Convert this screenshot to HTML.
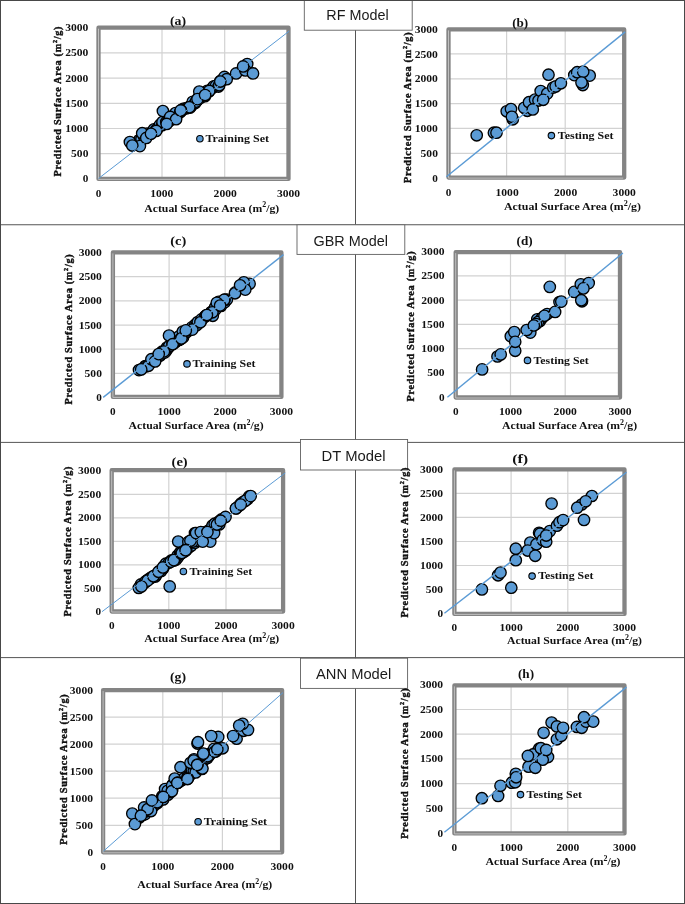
<!DOCTYPE html>
<html lang="en"><head><meta charset="utf-8"><title>Predicted vs actual surface area</title>
<style>html,body{margin:0;padding:0;background:#fff}svg{display:block}</style></head>
<body>
<svg width="685" height="904" viewBox="0 0 685 904" font-family="'Liberation Serif',serif" font-weight="bold" fill="#111">
<rect width="685" height="904" fill="#fff"/>
<line x1="355.5" y1="0" x2="355.5" y2="904" stroke="#555555" stroke-width="1"/>
<line x1="0" y1="224.75" x2="685" y2="224.75" stroke="#555555" stroke-width="1"/>
<line x1="0" y1="442.4" x2="685" y2="442.4" stroke="#555555" stroke-width="1"/>
<line x1="0" y1="657.6" x2="685" y2="657.6" stroke="#555555" stroke-width="1"/>
<rect x="304.3" y="-1" width="107.9" height="31.2" fill="#fff" stroke="#606060" stroke-width="0.9"/>
<text x="326.3" y="20.3" font-family="'Liberation Sans',sans-serif" font-weight="normal" font-size="14" fill="#1a1a1a" textLength="62.3" lengthAdjust="spacingAndGlyphs">RF Model</text>
<rect x="297.0" y="224.8" width="107.8" height="29.6" fill="#fff" stroke="#606060" stroke-width="0.9"/>
<text x="313.5" y="245.6" font-family="'Liberation Sans',sans-serif" font-weight="normal" font-size="14" fill="#1a1a1a" textLength="74.4" lengthAdjust="spacingAndGlyphs">GBR Model</text>
<rect x="300.5" y="439.5" width="107.1" height="30.5" fill="#fff" stroke="#606060" stroke-width="0.9"/>
<text x="321.6" y="461.1" font-family="'Liberation Sans',sans-serif" font-weight="normal" font-size="14" fill="#1a1a1a" textLength="63.9" lengthAdjust="spacingAndGlyphs">DT Model</text>
<rect x="300.5" y="658.2" width="107.1" height="30.2" fill="#fff" stroke="#606060" stroke-width="0.9"/>
<text x="316.0" y="679.3" font-family="'Liberation Sans',sans-serif" font-weight="normal" font-size="14" fill="#1a1a1a" textLength="75.2" lengthAdjust="spacingAndGlyphs">ANN Model</text>
<g id="panel-a">
<line x1="98.5" x2="288.5" y1="153.7" y2="153.7" stroke="#d2d2d2" stroke-width="1.2"/>
<line x1="98.5" x2="288.5" y1="128.5" y2="128.5" stroke="#d2d2d2" stroke-width="1.2"/>
<line x1="98.5" x2="288.5" y1="103.3" y2="103.3" stroke="#d2d2d2" stroke-width="1.2"/>
<line x1="98.5" x2="288.5" y1="78.1" y2="78.1" stroke="#d2d2d2" stroke-width="1.2"/>
<line x1="98.5" x2="288.5" y1="52.9" y2="52.9" stroke="#d2d2d2" stroke-width="1.2"/>
<line x1="162.0" x2="162.0" y1="27.7" y2="178.9" stroke="#d2d2d2" stroke-width="1.2"/>
<line x1="224.7" x2="224.7" y1="27.7" y2="178.9" stroke="#d2d2d2" stroke-width="1.2"/>
<rect x="98.5" y="27.7" width="190.0" height="151.2" fill="none" stroke="#848484" stroke-width="4.3" stroke-linejoin="round"/>
<path d="M98.5 28.7V179.4H287.5" fill="none" stroke="#bfbfbf" stroke-width="1"/>
<g fill="#5b9bd5" stroke="#000" stroke-width="1.35"><circle cx="139.2" cy="140.1" r="5.7"/><circle cx="141.5" cy="139.0" r="5.7"/><circle cx="144.3" cy="135.9" r="5.7"/><circle cx="144.2" cy="137.0" r="5.7"/><circle cx="147.0" cy="133.6" r="5.7"/><circle cx="151.2" cy="133.0" r="5.7"/><circle cx="152.7" cy="131.7" r="5.7"/><circle cx="154.0" cy="129.3" r="5.7"/><circle cx="155.9" cy="130.2" r="5.7"/><circle cx="157.5" cy="128.4" r="5.7"/><circle cx="159.9" cy="124.9" r="5.7"/><circle cx="162.1" cy="125.2" r="5.7"/><circle cx="162.5" cy="122.0" r="5.7"/><circle cx="166.3" cy="122.0" r="5.7"/><circle cx="167.7" cy="122.0" r="5.7"/><circle cx="169.7" cy="120.7" r="5.7"/><circle cx="170.6" cy="119.0" r="5.7"/><circle cx="172.7" cy="118.0" r="5.7"/><circle cx="176.0" cy="114.0" r="5.7"/><circle cx="175.5" cy="113.0" r="5.7"/><circle cx="180.1" cy="112.3" r="5.7"/><circle cx="181.0" cy="110.5" r="5.7"/><circle cx="182.5" cy="109.4" r="5.7"/><circle cx="184.0" cy="108.6" r="5.7"/><circle cx="186.6" cy="108.3" r="5.7"/><circle cx="188.9" cy="107.0" r="5.7"/><circle cx="191.4" cy="105.8" r="5.7"/><circle cx="192.7" cy="101.8" r="5.7"/><circle cx="195.2" cy="103.0" r="5.7"/><circle cx="197.3" cy="100.3" r="5.7"/><circle cx="198.6" cy="97.8" r="5.7"/><circle cx="200.9" cy="97.6" r="5.7"/><circle cx="201.1" cy="94.6" r="5.7"/><circle cx="204.9" cy="96.2" r="5.7"/><circle cx="204.4" cy="94.2" r="5.7"/><circle cx="207.3" cy="90.8" r="5.7"/><circle cx="208.9" cy="91.4" r="5.7"/><circle cx="212.7" cy="87.7" r="5.7"/><circle cx="213.8" cy="86.3" r="5.7"/><circle cx="216.0" cy="85.8" r="5.7"/><circle cx="218.5" cy="86.5" r="5.7"/><circle cx="219.2" cy="85.2" r="5.7"/><circle cx="220.5" cy="80.9" r="5.7"/><circle cx="223.4" cy="79.4" r="5.7"/><circle cx="224.0" cy="79.2" r="5.7"/><circle cx="129.9" cy="142.0" r="5.7"/><circle cx="139.9" cy="146.1" r="5.7"/><circle cx="142.2" cy="133.2" r="5.7"/><circle cx="146.3" cy="137.9" r="5.7"/><circle cx="156.2" cy="130.9" r="5.7"/><circle cx="162.9" cy="111.0" r="5.7"/><circle cx="170.2" cy="116.9" r="5.7"/><circle cx="176.1" cy="119.2" r="5.7"/><circle cx="190.1" cy="107.5" r="5.7"/><circle cx="195.9" cy="101.7" r="5.7"/><circle cx="199.4" cy="97.0" r="5.7"/><circle cx="247.2" cy="64.0" r="5.7"/><circle cx="236.1" cy="73.4" r="5.7"/><circle cx="245.4" cy="70.4" r="5.7"/><circle cx="253.0" cy="73.4" r="5.7"/><circle cx="224.4" cy="76.9" r="5.7"/><circle cx="226.7" cy="79.2" r="5.7"/><circle cx="199.3" cy="91.5" r="5.7"/><circle cx="209.2" cy="90.9" r="5.7"/><circle cx="197.5" cy="99.1" r="5.7"/><circle cx="189.3" cy="107.2" r="5.7"/><circle cx="181.2" cy="110.7" r="5.7"/><circle cx="132.3" cy="145.5" r="5.7"/><circle cx="151.0" cy="133.8" r="5.7"/><circle cx="166.7" cy="123.9" r="5.7"/><circle cx="180.7" cy="110.4" r="5.7"/><circle cx="205.1" cy="95.0" r="5.7"/><circle cx="220.3" cy="81.5" r="5.7"/><circle cx="243.1" cy="66.4" r="5.7"/></g>
<line x1="98.5" y1="178.5" x2="289.2" y2="31.1" stroke="#5b9bd5" stroke-width="1.0"/>
<circle cx="199.9" cy="138.7" r="3.25" fill="#5b9bd5" stroke="#000" stroke-width="1.1"/>
<text x="205.4" y="142.0" text-anchor="start" font-size="10.7" textLength="63.6" lengthAdjust="spacingAndGlyphs">Training Set</text>
<text x="88.4" y="182.4" text-anchor="end" font-size="10.7" textLength="5.6" lengthAdjust="spacingAndGlyphs">0</text>
<text x="88.4" y="157.2" text-anchor="end" font-size="10.7" textLength="17.3" lengthAdjust="spacingAndGlyphs">500</text>
<text x="88.4" y="132.0" text-anchor="end" font-size="10.7" textLength="23.2" lengthAdjust="spacingAndGlyphs">1000</text>
<text x="88.4" y="106.8" text-anchor="end" font-size="10.7" textLength="23.2" lengthAdjust="spacingAndGlyphs">1500</text>
<text x="88.4" y="81.6" text-anchor="end" font-size="10.7" textLength="23.2" lengthAdjust="spacingAndGlyphs">2000</text>
<text x="88.4" y="56.4" text-anchor="end" font-size="10.7" textLength="23.2" lengthAdjust="spacingAndGlyphs">2500</text>
<text x="88.4" y="31.2" text-anchor="end" font-size="10.7" textLength="23.2" lengthAdjust="spacingAndGlyphs">3000</text>
<text x="98.5" y="196.5" text-anchor="middle" font-size="10.7" textLength="5.6" lengthAdjust="spacingAndGlyphs">0</text>
<text x="161.8" y="196.5" text-anchor="middle" font-size="10.7" textLength="23.2" lengthAdjust="spacingAndGlyphs">1000</text>
<text x="225.2" y="196.5" text-anchor="middle" font-size="10.7" textLength="23.2" lengthAdjust="spacingAndGlyphs">2000</text>
<text x="288.5" y="196.5" text-anchor="middle" font-size="10.7" textLength="23.2" lengthAdjust="spacingAndGlyphs">3000</text>
<text x="144.3" y="211.6" text-anchor="start" font-size="11.2" textLength="135.0" lengthAdjust="spacingAndGlyphs">Actual Surface Area (m<tspan font-size="7.6" dy="-4.2">2</tspan><tspan dy="4.2">/g)</tspan></text>
<text x="57.5" y="104.9" text-anchor="middle" font-size="10.2" textLength="150.0" lengthAdjust="spacing" transform="rotate(-90 57.5 101.5)" stroke="#111" stroke-width="0.4">Predicted Surface Area (m<tspan font-size="6.2" dy="-3.9">2</tspan><tspan dy="3.9">/g)</tspan></text>
<text x="178.0" y="24.5" text-anchor="middle" font-size="13.2" textLength="16.1" lengthAdjust="spacingAndGlyphs">(a)</text>
</g>
<g id="panel-b">
<line x1="448.5" x2="624.2" y1="153.3" y2="153.3" stroke="#d2d2d2" stroke-width="1.2"/>
<line x1="448.5" x2="624.2" y1="128.4" y2="128.4" stroke="#d2d2d2" stroke-width="1.2"/>
<line x1="448.5" x2="624.2" y1="103.6" y2="103.6" stroke="#d2d2d2" stroke-width="1.2"/>
<line x1="448.5" x2="624.2" y1="78.8" y2="78.8" stroke="#d2d2d2" stroke-width="1.2"/>
<line x1="448.5" x2="624.2" y1="53.9" y2="53.9" stroke="#d2d2d2" stroke-width="1.2"/>
<line x1="506.6" x2="506.6" y1="29.4" y2="177.6" stroke="#d2d2d2" stroke-width="1.2"/>
<line x1="565.2" x2="565.2" y1="29.4" y2="177.6" stroke="#d2d2d2" stroke-width="1.2"/>
<rect x="448.5" y="29.4" width="175.7" height="148.2" fill="none" stroke="#848484" stroke-width="4.3" stroke-linejoin="round"/>
<path d="M448.5 30.4V178.1H623.2" fill="none" stroke="#bfbfbf" stroke-width="1"/>
<g fill="#5b9bd5" stroke="#000" stroke-width="1.35"><circle cx="476.7" cy="135.3" r="5.7"/><circle cx="493.9" cy="132.7" r="5.7"/><circle cx="496.5" cy="132.7" r="5.7"/><circle cx="506.7" cy="111.3" r="5.7"/><circle cx="511.0" cy="109.0" r="5.7"/><circle cx="512.8" cy="119.3" r="5.7"/><circle cx="511.9" cy="116.8" r="5.7"/><circle cx="527.3" cy="110.8" r="5.7"/><circle cx="524.2" cy="107.8" r="5.7"/><circle cx="529.0" cy="102.2" r="5.7"/><circle cx="535.1" cy="99.6" r="5.7"/><circle cx="538.5" cy="100.5" r="5.7"/><circle cx="540.7" cy="91.0" r="5.7"/><circle cx="532.8" cy="109.4" r="5.7"/><circle cx="547.2" cy="93.6" r="5.7"/><circle cx="543.2" cy="99.8" r="5.7"/><circle cx="548.5" cy="74.7" r="5.7"/><circle cx="553.2" cy="87.6" r="5.7"/><circle cx="555.7" cy="86.4" r="5.7"/><circle cx="560.9" cy="83.3" r="5.7"/><circle cx="574.3" cy="75.1" r="5.7"/><circle cx="577.2" cy="72.2" r="5.7"/><circle cx="589.7" cy="75.6" r="5.7"/><circle cx="582.8" cy="85.0" r="5.7"/><circle cx="583.2" cy="71.7" r="5.7"/><circle cx="581.5" cy="82.5" r="5.7"/></g>
<line x1="446.4" y1="176.8" x2="625.2" y2="31.9" stroke="#5b9bd5" stroke-width="1.4"/>
<circle cx="551.4" cy="135.6" r="3.25" fill="#5b9bd5" stroke="#000" stroke-width="1.1"/>
<text x="557.8" y="138.9" text-anchor="start" font-size="10.7" textLength="55.7" lengthAdjust="spacingAndGlyphs">Testing Set</text>
<text x="437.9" y="181.6" text-anchor="end" font-size="10.7" textLength="5.6" lengthAdjust="spacingAndGlyphs">0</text>
<text x="437.9" y="156.8" text-anchor="end" font-size="10.7" textLength="17.3" lengthAdjust="spacingAndGlyphs">500</text>
<text x="437.9" y="132.0" text-anchor="end" font-size="10.7" textLength="23.2" lengthAdjust="spacingAndGlyphs">1000</text>
<text x="437.9" y="107.1" text-anchor="end" font-size="10.7" textLength="23.2" lengthAdjust="spacingAndGlyphs">1500</text>
<text x="437.9" y="82.3" text-anchor="end" font-size="10.7" textLength="23.2" lengthAdjust="spacingAndGlyphs">2000</text>
<text x="437.9" y="57.5" text-anchor="end" font-size="10.7" textLength="23.2" lengthAdjust="spacingAndGlyphs">2500</text>
<text x="437.9" y="32.6" text-anchor="end" font-size="10.7" textLength="23.2" lengthAdjust="spacingAndGlyphs">3000</text>
<text x="448.5" y="195.5" text-anchor="middle" font-size="10.7" textLength="5.6" lengthAdjust="spacingAndGlyphs">0</text>
<text x="507.1" y="195.5" text-anchor="middle" font-size="10.7" textLength="23.2" lengthAdjust="spacingAndGlyphs">1000</text>
<text x="565.6" y="195.5" text-anchor="middle" font-size="10.7" textLength="23.2" lengthAdjust="spacingAndGlyphs">2000</text>
<text x="624.2" y="195.5" text-anchor="middle" font-size="10.7" textLength="23.2" lengthAdjust="spacingAndGlyphs">3000</text>
<text x="504.0" y="210.0" text-anchor="start" font-size="11.2" textLength="137.0" lengthAdjust="spacingAndGlyphs">Actual Surface Area (m<tspan font-size="7.6" dy="-4.2">2</tspan><tspan dy="4.2">/g)</tspan></text>
<text x="407.9" y="111.1" text-anchor="middle" font-size="10.2" textLength="150.5" lengthAdjust="spacing" transform="rotate(-90 407.9 107.7)" stroke="#111" stroke-width="0.4">Predicted Surface Area (m<tspan font-size="6.2" dy="-3.9">2</tspan><tspan dy="3.9">/g)</tspan></text>
<text x="520.2" y="26.6" text-anchor="middle" font-size="13.2" textLength="16.1" lengthAdjust="spacingAndGlyphs">(b)</text>
</g>
<g id="panel-c">
<line x1="112.9" x2="281.4" y1="373.4" y2="373.4" stroke="#d2d2d2" stroke-width="1.2"/>
<line x1="112.9" x2="281.4" y1="349.2" y2="349.2" stroke="#d2d2d2" stroke-width="1.2"/>
<line x1="112.9" x2="281.4" y1="325.1" y2="325.1" stroke="#d2d2d2" stroke-width="1.2"/>
<line x1="112.9" x2="281.4" y1="300.9" y2="300.9" stroke="#d2d2d2" stroke-width="1.2"/>
<line x1="112.9" x2="281.4" y1="276.7" y2="276.7" stroke="#d2d2d2" stroke-width="1.2"/>
<line x1="169.1" x2="169.1" y1="252.4" y2="396.9" stroke="#d2d2d2" stroke-width="1.2"/>
<line x1="225.2" x2="225.2" y1="252.4" y2="396.9" stroke="#d2d2d2" stroke-width="1.2"/>
<rect x="112.9" y="252.4" width="168.5" height="144.5" fill="none" stroke="#848484" stroke-width="4.3" stroke-linejoin="round"/>
<path d="M112.9 253.4V397.4H280.4" fill="none" stroke="#bfbfbf" stroke-width="1"/>
<g fill="#5b9bd5" stroke="#000" stroke-width="1.35"><circle cx="145.3" cy="366.0" r="5.7"/><circle cx="145.6" cy="366.5" r="5.7"/><circle cx="148.4" cy="365.1" r="5.7"/><circle cx="152.1" cy="361.7" r="5.7"/><circle cx="152.8" cy="360.5" r="5.7"/><circle cx="155.3" cy="359.1" r="5.7"/><circle cx="157.0" cy="357.6" r="5.7"/><circle cx="160.2" cy="355.6" r="5.7"/><circle cx="160.6" cy="354.6" r="5.7"/><circle cx="162.0" cy="351.7" r="5.7"/><circle cx="166.2" cy="350.7" r="5.7"/><circle cx="166.9" cy="347.6" r="5.7"/><circle cx="168.5" cy="347.6" r="5.7"/><circle cx="169.2" cy="346.1" r="5.7"/><circle cx="173.1" cy="342.8" r="5.7"/><circle cx="175.0" cy="342.4" r="5.7"/><circle cx="177.1" cy="340.4" r="5.7"/><circle cx="179.2" cy="339.9" r="5.7"/><circle cx="179.1" cy="336.3" r="5.7"/><circle cx="183.1" cy="337.3" r="5.7"/><circle cx="183.8" cy="334.2" r="5.7"/><circle cx="186.8" cy="332.1" r="5.7"/><circle cx="188.1" cy="330.5" r="5.7"/><circle cx="190.0" cy="329.7" r="5.7"/><circle cx="191.8" cy="327.4" r="5.7"/><circle cx="195.2" cy="324.7" r="5.7"/><circle cx="196.6" cy="325.2" r="5.7"/><circle cx="197.8" cy="322.0" r="5.7"/><circle cx="201.2" cy="320.5" r="5.7"/><circle cx="201.4" cy="319.4" r="5.7"/><circle cx="204.9" cy="316.8" r="5.7"/><circle cx="205.7" cy="315.8" r="5.7"/><circle cx="209.2" cy="314.5" r="5.7"/><circle cx="211.3" cy="312.1" r="5.7"/><circle cx="211.7" cy="311.9" r="5.7"/><circle cx="215.3" cy="309.7" r="5.7"/><circle cx="215.3" cy="307.0" r="5.7"/><circle cx="218.2" cy="305.6" r="5.7"/><circle cx="221.0" cy="305.9" r="5.7"/><circle cx="221.1" cy="302.6" r="5.7"/><circle cx="224.9" cy="302.1" r="5.7"/><circle cx="226.9" cy="299.5" r="5.7"/><circle cx="139.0" cy="370.1" r="5.7"/><circle cx="148.5" cy="365.8" r="5.7"/><circle cx="151.4" cy="359.2" r="5.7"/><circle cx="155.1" cy="361.4" r="5.7"/><circle cx="164.6" cy="352.6" r="5.7"/><circle cx="172.6" cy="343.9" r="5.7"/><circle cx="180.6" cy="338.8" r="5.7"/><circle cx="182.8" cy="331.5" r="5.7"/><circle cx="163.9" cy="351.5" r="5.7"/><circle cx="169.0" cy="335.5" r="5.7"/><circle cx="172.6" cy="344.2" r="5.7"/><circle cx="181.4" cy="338.4" r="5.7"/><circle cx="192.3" cy="329.6" r="5.7"/><circle cx="200.4" cy="322.3" r="5.7"/><circle cx="212.8" cy="315.8" r="5.7"/><circle cx="218.6" cy="301.9" r="5.7"/><circle cx="224.5" cy="299.7" r="5.7"/><circle cx="235.4" cy="292.4" r="5.7"/><circle cx="249.6" cy="283.8" r="5.7"/><circle cx="243.8" cy="282.3" r="5.7"/><circle cx="245.3" cy="289.6" r="5.7"/><circle cx="235.0" cy="293.3" r="5.7"/><circle cx="224.1" cy="299.9" r="5.7"/><circle cx="216.8" cy="302.8" r="5.7"/><circle cx="212.4" cy="312.3" r="5.7"/><circle cx="206.6" cy="315.2" r="5.7"/><circle cx="141.2" cy="369.4" r="5.7"/><circle cx="158.7" cy="354.1" r="5.7"/><circle cx="185.8" cy="330.4" r="5.7"/><circle cx="206.9" cy="315.0" r="5.7"/><circle cx="220.1" cy="305.5" r="5.7"/><circle cx="240.1" cy="285.3" r="5.7"/></g>
<line x1="103.2" y1="397.4" x2="283.5" y2="254.6" stroke="#5b9bd5" stroke-width="1.4"/>
<circle cx="187.0" cy="363.9" r="3.25" fill="#5b9bd5" stroke="#000" stroke-width="1.1"/>
<text x="192.5" y="367.2" text-anchor="start" font-size="10.7" textLength="62.9" lengthAdjust="spacingAndGlyphs">Training Set</text>
<text x="101.9" y="401.1" text-anchor="end" font-size="10.7" textLength="5.6" lengthAdjust="spacingAndGlyphs">0</text>
<text x="101.9" y="376.9" text-anchor="end" font-size="10.7" textLength="17.3" lengthAdjust="spacingAndGlyphs">500</text>
<text x="101.9" y="352.8" text-anchor="end" font-size="10.7" textLength="23.2" lengthAdjust="spacingAndGlyphs">1000</text>
<text x="101.9" y="328.6" text-anchor="end" font-size="10.7" textLength="23.2" lengthAdjust="spacingAndGlyphs">1500</text>
<text x="101.9" y="304.4" text-anchor="end" font-size="10.7" textLength="23.2" lengthAdjust="spacingAndGlyphs">2000</text>
<text x="101.9" y="280.2" text-anchor="end" font-size="10.7" textLength="23.2" lengthAdjust="spacingAndGlyphs">2500</text>
<text x="101.9" y="256.0" text-anchor="end" font-size="10.7" textLength="23.2" lengthAdjust="spacingAndGlyphs">3000</text>
<text x="112.9" y="415.1" text-anchor="middle" font-size="10.7" textLength="5.6" lengthAdjust="spacingAndGlyphs">0</text>
<text x="169.1" y="415.1" text-anchor="middle" font-size="10.7" textLength="23.2" lengthAdjust="spacingAndGlyphs">1000</text>
<text x="225.2" y="415.1" text-anchor="middle" font-size="10.7" textLength="23.2" lengthAdjust="spacingAndGlyphs">2000</text>
<text x="281.4" y="415.1" text-anchor="middle" font-size="10.7" textLength="23.2" lengthAdjust="spacingAndGlyphs">3000</text>
<text x="128.6" y="429.3" text-anchor="start" font-size="11.2" textLength="135.0" lengthAdjust="spacingAndGlyphs">Actual Surface Area (m<tspan font-size="7.6" dy="-4.2">2</tspan><tspan dy="4.2">/g)</tspan></text>
<text x="68.3" y="332.8" text-anchor="middle" font-size="10.2" textLength="150.2" lengthAdjust="spacing" transform="rotate(-90 68.3 329.4)" stroke="#111" stroke-width="0.4">Predicted Surface Area (m<tspan font-size="6.2" dy="-3.9">2</tspan><tspan dy="3.9">/g)</tspan></text>
<text x="178.2" y="244.5" text-anchor="middle" font-size="13.2" textLength="16.1" lengthAdjust="spacingAndGlyphs">(c)</text>
</g>
<g id="panel-d">
<line x1="455.7" x2="620.0" y1="372.9" y2="372.9" stroke="#d2d2d2" stroke-width="1.2"/>
<line x1="455.7" x2="620.0" y1="348.6" y2="348.6" stroke="#d2d2d2" stroke-width="1.2"/>
<line x1="455.7" x2="620.0" y1="324.4" y2="324.4" stroke="#d2d2d2" stroke-width="1.2"/>
<line x1="455.7" x2="620.0" y1="300.1" y2="300.1" stroke="#d2d2d2" stroke-width="1.2"/>
<line x1="455.7" x2="620.0" y1="275.8" y2="275.8" stroke="#d2d2d2" stroke-width="1.2"/>
<line x1="510.5" x2="510.5" y1="252.1" y2="397.5" stroke="#d2d2d2" stroke-width="1.2"/>
<line x1="565.2" x2="565.2" y1="252.1" y2="397.5" stroke="#d2d2d2" stroke-width="1.2"/>
<rect x="455.7" y="252.1" width="164.3" height="145.4" fill="none" stroke="#848484" stroke-width="4.3" stroke-linejoin="round"/>
<path d="M455.7 253.1V398.0H619.0" fill="none" stroke="#bfbfbf" stroke-width="1"/>
<g fill="#5b9bd5" stroke="#000" stroke-width="1.35"><circle cx="482.1" cy="369.4" r="5.7"/><circle cx="497.5" cy="356.5" r="5.7"/><circle cx="500.7" cy="354.4" r="5.7"/><circle cx="510.8" cy="336.2" r="5.7"/><circle cx="514.3" cy="332.1" r="5.7"/><circle cx="515.2" cy="350.8" r="5.7"/><circle cx="515.2" cy="341.8" r="5.7"/><circle cx="530.3" cy="332.6" r="5.7"/><circle cx="526.7" cy="330.0" r="5.7"/><circle cx="537.3" cy="319.3" r="5.7"/><circle cx="540.0" cy="321.1" r="5.7"/><circle cx="542.0" cy="318.0" r="5.7"/><circle cx="538.0" cy="322.0" r="5.7"/><circle cx="536.0" cy="324.0" r="5.7"/><circle cx="547.1" cy="314.0" r="5.7"/><circle cx="533.8" cy="325.5" r="5.7"/><circle cx="544.5" cy="315.8" r="5.7"/><circle cx="555.1" cy="311.9" r="5.7"/><circle cx="549.8" cy="286.9" r="5.7"/><circle cx="559.5" cy="302.0" r="5.7"/><circle cx="561.3" cy="301.6" r="5.7"/><circle cx="574.2" cy="291.9" r="5.7"/><circle cx="580.8" cy="284.3" r="5.7"/><circle cx="588.7" cy="283.1" r="5.7"/><circle cx="583.4" cy="288.4" r="5.7"/><circle cx="582.0" cy="301.3" r="5.7"/><circle cx="581.3" cy="300.2" r="5.7"/></g>
<line x1="447.4" y1="397.2" x2="622.9" y2="253.0" stroke="#5b9bd5" stroke-width="1.4"/>
<circle cx="527.5" cy="360.4" r="3.25" fill="#5b9bd5" stroke="#000" stroke-width="1.1"/>
<text x="533.5" y="363.7" text-anchor="start" font-size="10.7" textLength="55.2" lengthAdjust="spacingAndGlyphs">Testing Set</text>
<text x="444.5" y="400.7" text-anchor="end" font-size="10.7" textLength="5.6" lengthAdjust="spacingAndGlyphs">0</text>
<text x="444.5" y="376.4" text-anchor="end" font-size="10.7" textLength="17.3" lengthAdjust="spacingAndGlyphs">500</text>
<text x="444.5" y="352.2" text-anchor="end" font-size="10.7" textLength="23.2" lengthAdjust="spacingAndGlyphs">1000</text>
<text x="444.5" y="327.9" text-anchor="end" font-size="10.7" textLength="23.2" lengthAdjust="spacingAndGlyphs">1500</text>
<text x="444.5" y="303.6" text-anchor="end" font-size="10.7" textLength="23.2" lengthAdjust="spacingAndGlyphs">2000</text>
<text x="444.5" y="279.3" text-anchor="end" font-size="10.7" textLength="23.2" lengthAdjust="spacingAndGlyphs">2500</text>
<text x="444.5" y="255.0" text-anchor="end" font-size="10.7" textLength="23.2" lengthAdjust="spacingAndGlyphs">3000</text>
<text x="455.7" y="414.9" text-anchor="middle" font-size="10.7" textLength="5.6" lengthAdjust="spacingAndGlyphs">0</text>
<text x="510.5" y="414.9" text-anchor="middle" font-size="10.7" textLength="23.2" lengthAdjust="spacingAndGlyphs">1000</text>
<text x="565.2" y="414.9" text-anchor="middle" font-size="10.7" textLength="23.2" lengthAdjust="spacingAndGlyphs">2000</text>
<text x="620.0" y="414.9" text-anchor="middle" font-size="10.7" textLength="23.2" lengthAdjust="spacingAndGlyphs">3000</text>
<text x="502.1" y="428.8" text-anchor="start" font-size="11.2" textLength="135.0" lengthAdjust="spacingAndGlyphs">Actual Surface Area (m<tspan font-size="7.6" dy="-4.2">2</tspan><tspan dy="4.2">/g)</tspan></text>
<text x="410.7" y="329.8" text-anchor="middle" font-size="10.2" textLength="150.0" lengthAdjust="spacing" transform="rotate(-90 410.7 326.4)" stroke="#111" stroke-width="0.4">Predicted Surface Area (m<tspan font-size="6.2" dy="-3.9">2</tspan><tspan dy="3.9">/g)</tspan></text>
<text x="524.6" y="244.5" text-anchor="middle" font-size="13.2" textLength="16.1" lengthAdjust="spacingAndGlyphs">(d)</text>
</g>
<g id="panel-e">
<line x1="111.7" x2="283.1" y1="588.4" y2="588.4" stroke="#d2d2d2" stroke-width="1.2"/>
<line x1="111.7" x2="283.1" y1="564.9" y2="564.9" stroke="#d2d2d2" stroke-width="1.2"/>
<line x1="111.7" x2="283.1" y1="541.4" y2="541.4" stroke="#d2d2d2" stroke-width="1.2"/>
<line x1="111.7" x2="283.1" y1="517.8" y2="517.8" stroke="#d2d2d2" stroke-width="1.2"/>
<line x1="111.7" x2="283.1" y1="494.3" y2="494.3" stroke="#d2d2d2" stroke-width="1.2"/>
<line x1="168.8" x2="168.8" y1="470.2" y2="611.5" stroke="#d2d2d2" stroke-width="1.2"/>
<line x1="226.0" x2="226.0" y1="470.2" y2="611.5" stroke="#d2d2d2" stroke-width="1.2"/>
<rect x="111.7" y="470.2" width="171.4" height="141.3" fill="none" stroke="#848484" stroke-width="4.3" stroke-linejoin="round"/>
<path d="M111.7 471.2V612.0H282.1" fill="none" stroke="#bfbfbf" stroke-width="1"/>
<g fill="#5b9bd5" stroke="#000" stroke-width="1.35"><circle cx="140.9" cy="584.4" r="5.7"/><circle cx="144.9" cy="582.6" r="5.7"/><circle cx="145.6" cy="581.4" r="5.7"/><circle cx="147.9" cy="579.7" r="5.7"/><circle cx="151.5" cy="577.3" r="5.7"/><circle cx="150.8" cy="578.0" r="5.7"/><circle cx="155.4" cy="576.5" r="5.7"/><circle cx="156.2" cy="574.7" r="5.7"/><circle cx="159.7" cy="570.8" r="5.7"/><circle cx="161.2" cy="571.0" r="5.7"/><circle cx="163.0" cy="568.4" r="5.7"/><circle cx="163.9" cy="566.2" r="5.7"/><circle cx="165.8" cy="563.7" r="5.7"/><circle cx="168.9" cy="562.7" r="5.7"/><circle cx="171.6" cy="560.3" r="5.7"/><circle cx="174.0" cy="560.6" r="5.7"/><circle cx="176.1" cy="559.5" r="5.7"/><circle cx="178.1" cy="556.9" r="5.7"/><circle cx="177.5" cy="555.7" r="5.7"/><circle cx="180.0" cy="552.7" r="5.7"/><circle cx="183.5" cy="551.7" r="5.7"/><circle cx="184.8" cy="551.3" r="5.7"/><circle cx="187.5" cy="547.9" r="5.7"/><circle cx="188.4" cy="547.8" r="5.7"/><circle cx="191.2" cy="545.8" r="5.7"/><circle cx="192.8" cy="542.4" r="5.7"/><circle cx="195.4" cy="542.6" r="5.7"/><circle cx="196.4" cy="540.9" r="5.7"/><circle cx="200.7" cy="539.3" r="5.7"/><circle cx="202.5" cy="535.2" r="5.7"/><circle cx="203.9" cy="536.1" r="5.7"/><circle cx="204.2" cy="532.6" r="5.7"/><circle cx="206.9" cy="531.7" r="5.7"/><circle cx="209.5" cy="529.9" r="5.7"/><circle cx="212.6" cy="526.8" r="5.7"/><circle cx="212.5" cy="525.5" r="5.7"/><circle cx="214.7" cy="523.7" r="5.7"/><circle cx="219.3" cy="524.4" r="5.7"/><circle cx="218.7" cy="521.7" r="5.7"/><circle cx="221.4" cy="519.4" r="5.7"/><circle cx="236.2" cy="508.3" r="5.7"/><circle cx="239.4" cy="505.5" r="5.7"/><circle cx="241.3" cy="503.3" r="5.7"/><circle cx="243.8" cy="501.5" r="5.7"/><circle cx="247.7" cy="499.0" r="5.7"/><circle cx="249.2" cy="496.4" r="5.7"/><circle cx="138.8" cy="587.9" r="5.7"/><circle cx="147.6" cy="580.6" r="5.7"/><circle cx="153.4" cy="576.2" r="5.7"/><circle cx="158.5" cy="571.8" r="5.7"/><circle cx="162.9" cy="567.4" r="5.7"/><circle cx="169.7" cy="586.4" r="5.7"/><circle cx="170.9" cy="561.6" r="5.7"/><circle cx="173.8" cy="560.1" r="5.7"/><circle cx="178.2" cy="541.5" r="5.7"/><circle cx="181.1" cy="553.6" r="5.7"/><circle cx="188.4" cy="541.9" r="5.7"/><circle cx="192.5" cy="541.6" r="5.7"/><circle cx="195.0" cy="533.1" r="5.7"/><circle cx="181.8" cy="553.0" r="5.7"/><circle cx="190.4" cy="540.7" r="5.7"/><circle cx="196.1" cy="533.1" r="5.7"/><circle cx="200.8" cy="532.1" r="5.7"/><circle cx="210.3" cy="541.6" r="5.7"/><circle cx="214.1" cy="533.1" r="5.7"/><circle cx="216.9" cy="524.5" r="5.7"/><circle cx="225.5" cy="516.9" r="5.7"/><circle cx="235.9" cy="508.4" r="5.7"/><circle cx="245.4" cy="500.8" r="5.7"/><circle cx="250.7" cy="496.1" r="5.7"/><circle cx="141.4" cy="586.4" r="5.7"/><circle cx="186.2" cy="549.9" r="5.7"/><circle cx="185.6" cy="550.2" r="5.7"/><circle cx="202.7" cy="541.6" r="5.7"/><circle cx="207.4" cy="532.1" r="5.7"/><circle cx="220.7" cy="520.7" r="5.7"/><circle cx="240.7" cy="504.6" r="5.7"/></g>
<line x1="102.0" y1="611.7" x2="285.3" y2="472.9" stroke="#5b9bd5" stroke-width="1.0"/>
<circle cx="183.4" cy="571.5" r="3.25" fill="#5b9bd5" stroke="#000" stroke-width="1.1"/>
<text x="189.5" y="574.8" text-anchor="start" font-size="10.7" textLength="62.7" lengthAdjust="spacingAndGlyphs">Training Set</text>
<text x="101.2" y="615.4" text-anchor="end" font-size="10.7" textLength="5.6" lengthAdjust="spacingAndGlyphs">0</text>
<text x="101.2" y="591.9" text-anchor="end" font-size="10.7" textLength="17.3" lengthAdjust="spacingAndGlyphs">500</text>
<text x="101.2" y="568.4" text-anchor="end" font-size="10.7" textLength="23.2" lengthAdjust="spacingAndGlyphs">1000</text>
<text x="101.2" y="544.9" text-anchor="end" font-size="10.7" textLength="23.2" lengthAdjust="spacingAndGlyphs">1500</text>
<text x="101.2" y="521.4" text-anchor="end" font-size="10.7" textLength="23.2" lengthAdjust="spacingAndGlyphs">2000</text>
<text x="101.2" y="497.8" text-anchor="end" font-size="10.7" textLength="23.2" lengthAdjust="spacingAndGlyphs">2500</text>
<text x="101.2" y="474.3" text-anchor="end" font-size="10.7" textLength="23.2" lengthAdjust="spacingAndGlyphs">3000</text>
<text x="111.7" y="629.3" text-anchor="middle" font-size="10.7" textLength="5.6" lengthAdjust="spacingAndGlyphs">0</text>
<text x="168.8" y="629.3" text-anchor="middle" font-size="10.7" textLength="23.2" lengthAdjust="spacingAndGlyphs">1000</text>
<text x="226.0" y="629.3" text-anchor="middle" font-size="10.7" textLength="23.2" lengthAdjust="spacingAndGlyphs">2000</text>
<text x="283.1" y="629.3" text-anchor="middle" font-size="10.7" textLength="23.2" lengthAdjust="spacingAndGlyphs">3000</text>
<text x="144.3" y="642.0" text-anchor="start" font-size="11.2" textLength="135.0" lengthAdjust="spacingAndGlyphs">Actual Surface Area (m<tspan font-size="7.6" dy="-4.2">2</tspan><tspan dy="4.2">/g)</tspan></text>
<text x="67.8" y="544.9" text-anchor="middle" font-size="10.2" textLength="150.0" lengthAdjust="spacing" transform="rotate(-90 67.8 541.5)" stroke="#111" stroke-width="0.4">Predicted Surface Area (m<tspan font-size="6.2" dy="-3.9">2</tspan><tspan dy="3.9">/g)</tspan></text>
<text x="179.6" y="466.1" text-anchor="middle" font-size="13.2" textLength="16.1" lengthAdjust="spacingAndGlyphs">(e)</text>
</g>
<g id="panel-f">
<line x1="454.4" x2="624.5" y1="589.5" y2="589.5" stroke="#d2d2d2" stroke-width="1.2"/>
<line x1="454.4" x2="624.5" y1="565.5" y2="565.5" stroke="#d2d2d2" stroke-width="1.2"/>
<line x1="454.4" x2="624.5" y1="541.5" y2="541.5" stroke="#d2d2d2" stroke-width="1.2"/>
<line x1="454.4" x2="624.5" y1="517.4" y2="517.4" stroke="#d2d2d2" stroke-width="1.2"/>
<line x1="454.4" x2="624.5" y1="493.4" y2="493.4" stroke="#d2d2d2" stroke-width="1.2"/>
<line x1="511.1" x2="511.1" y1="469.4" y2="613.9" stroke="#d2d2d2" stroke-width="1.2"/>
<line x1="567.8" x2="567.8" y1="469.4" y2="613.9" stroke="#d2d2d2" stroke-width="1.2"/>
<rect x="454.4" y="469.4" width="170.1" height="144.5" fill="none" stroke="#848484" stroke-width="4.3" stroke-linejoin="round"/>
<path d="M454.4 470.4V614.4H623.5" fill="none" stroke="#bfbfbf" stroke-width="1"/>
<g fill="#5b9bd5" stroke="#000" stroke-width="1.35"><circle cx="481.9" cy="589.4" r="5.7"/><circle cx="498.1" cy="575.3" r="5.7"/><circle cx="500.5" cy="572.6" r="5.7"/><circle cx="511.3" cy="587.7" r="5.7"/><circle cx="515.8" cy="548.7" r="5.7"/><circle cx="515.8" cy="560.2" r="5.7"/><circle cx="530.3" cy="542.5" r="5.7"/><circle cx="527.6" cy="550.5" r="5.7"/><circle cx="536.5" cy="544.3" r="5.7"/><circle cx="539.1" cy="532.8" r="5.7"/><circle cx="540.0" cy="533.7" r="5.7"/><circle cx="542.7" cy="539.9" r="5.7"/><circle cx="546.2" cy="541.7" r="5.7"/><circle cx="549.8" cy="531.1" r="5.7"/><circle cx="535.2" cy="555.8" r="5.7"/><circle cx="546.2" cy="535.5" r="5.7"/><circle cx="551.6" cy="503.6" r="5.7"/><circle cx="556.9" cy="525.7" r="5.7"/><circle cx="559.5" cy="522.2" r="5.7"/><circle cx="563.1" cy="520.1" r="5.7"/><circle cx="581.7" cy="504.5" r="5.7"/><circle cx="577.2" cy="507.7" r="5.7"/><circle cx="591.9" cy="496.0" r="5.7"/><circle cx="585.7" cy="501.3" r="5.7"/><circle cx="584.0" cy="519.9" r="5.7"/></g>
<line x1="444.4" y1="613.3" x2="626.5" y2="472.3" stroke="#5b9bd5" stroke-width="1.4"/>
<circle cx="532.1" cy="576.1" r="3.25" fill="#5b9bd5" stroke="#000" stroke-width="1.1"/>
<text x="538.2" y="579.4" text-anchor="start" font-size="10.7" textLength="55.2" lengthAdjust="spacingAndGlyphs">Testing Set</text>
<text x="443.1" y="617.0" text-anchor="end" font-size="10.7" textLength="5.6" lengthAdjust="spacingAndGlyphs">0</text>
<text x="443.1" y="593.0" text-anchor="end" font-size="10.7" textLength="17.3" lengthAdjust="spacingAndGlyphs">500</text>
<text x="443.1" y="569.0" text-anchor="end" font-size="10.7" textLength="23.2" lengthAdjust="spacingAndGlyphs">1000</text>
<text x="443.1" y="545.0" text-anchor="end" font-size="10.7" textLength="23.2" lengthAdjust="spacingAndGlyphs">1500</text>
<text x="443.1" y="521.0" text-anchor="end" font-size="10.7" textLength="23.2" lengthAdjust="spacingAndGlyphs">2000</text>
<text x="443.1" y="496.9" text-anchor="end" font-size="10.7" textLength="23.2" lengthAdjust="spacingAndGlyphs">2500</text>
<text x="443.1" y="472.9" text-anchor="end" font-size="10.7" textLength="23.2" lengthAdjust="spacingAndGlyphs">3000</text>
<text x="454.4" y="631.1" text-anchor="middle" font-size="10.7" textLength="5.6" lengthAdjust="spacingAndGlyphs">0</text>
<text x="511.1" y="631.1" text-anchor="middle" font-size="10.7" textLength="23.2" lengthAdjust="spacingAndGlyphs">1000</text>
<text x="567.8" y="631.1" text-anchor="middle" font-size="10.7" textLength="23.2" lengthAdjust="spacingAndGlyphs">2000</text>
<text x="624.5" y="631.1" text-anchor="middle" font-size="10.7" textLength="23.2" lengthAdjust="spacingAndGlyphs">3000</text>
<text x="507.0" y="644.3" text-anchor="start" font-size="11.2" textLength="135.0" lengthAdjust="spacingAndGlyphs">Actual Surface Area (m<tspan font-size="7.6" dy="-4.2">2</tspan><tspan dy="4.2">/g)</tspan></text>
<text x="404.3" y="546.0" text-anchor="middle" font-size="10.2" textLength="150.0" lengthAdjust="spacing" transform="rotate(-90 404.3 542.6)" stroke="#111" stroke-width="0.4">Predicted Surface Area (m<tspan font-size="6.2" dy="-3.9">2</tspan><tspan dy="3.9">/g)</tspan></text>
<text x="520.2" y="463.3" text-anchor="middle" font-size="13.2" textLength="16.1" lengthAdjust="spacingAndGlyphs">(f)</text>
</g>
<g id="panel-g">
<line x1="103.1" x2="282.1" y1="825.3" y2="825.3" stroke="#d2d2d2" stroke-width="1.2"/>
<line x1="103.1" x2="282.1" y1="798.2" y2="798.2" stroke="#d2d2d2" stroke-width="1.2"/>
<line x1="103.1" x2="282.1" y1="771.2" y2="771.2" stroke="#d2d2d2" stroke-width="1.2"/>
<line x1="103.1" x2="282.1" y1="744.2" y2="744.2" stroke="#d2d2d2" stroke-width="1.2"/>
<line x1="103.1" x2="282.1" y1="717.1" y2="717.1" stroke="#d2d2d2" stroke-width="1.2"/>
<line x1="162.8" x2="162.8" y1="690.1" y2="852.3" stroke="#d2d2d2" stroke-width="1.2"/>
<line x1="222.4" x2="222.4" y1="690.1" y2="852.3" stroke="#d2d2d2" stroke-width="1.2"/>
<rect x="103.1" y="690.1" width="179.0" height="162.2" fill="none" stroke="#848484" stroke-width="4.3" stroke-linejoin="round"/>
<path d="M103.1 691.1V852.8H281.1" fill="none" stroke="#bfbfbf" stroke-width="1"/>
<g fill="#5b9bd5" stroke="#000" stroke-width="1.35"><circle cx="139.4" cy="817.5" r="5.7"/><circle cx="143.2" cy="814.8" r="5.7"/><circle cx="145.2" cy="814.1" r="5.7"/><circle cx="145.5" cy="811.3" r="5.7"/><circle cx="147.8" cy="811.0" r="5.7"/><circle cx="149.4" cy="809.3" r="5.7"/><circle cx="151.5" cy="805.6" r="5.7"/><circle cx="153.8" cy="805.8" r="5.7"/><circle cx="153.7" cy="802.9" r="5.7"/><circle cx="157.2" cy="803.2" r="5.7"/><circle cx="161.4" cy="799.3" r="5.7"/><circle cx="163.2" cy="799.4" r="5.7"/><circle cx="162.3" cy="796.2" r="5.7"/><circle cx="163.7" cy="796.0" r="5.7"/><circle cx="168.0" cy="794.7" r="5.7"/><circle cx="170.5" cy="792.0" r="5.7"/><circle cx="172.2" cy="789.8" r="5.7"/><circle cx="171.4" cy="788.2" r="5.7"/><circle cx="172.9" cy="784.5" r="5.7"/><circle cx="178.2" cy="782.4" r="5.7"/><circle cx="177.2" cy="780.9" r="5.7"/><circle cx="182.6" cy="779.5" r="5.7"/><circle cx="180.8" cy="780.7" r="5.7"/><circle cx="183.2" cy="779.0" r="5.7"/><circle cx="187.5" cy="777.2" r="5.7"/><circle cx="190.7" cy="774.4" r="5.7"/><circle cx="192.0" cy="770.3" r="5.7"/><circle cx="193.8" cy="770.7" r="5.7"/><circle cx="195.5" cy="767.2" r="5.7"/><circle cx="197.6" cy="769.1" r="5.7"/><circle cx="196.5" cy="764.7" r="5.7"/><circle cx="200.7" cy="765.2" r="5.7"/><circle cx="201.2" cy="760.6" r="5.7"/><circle cx="203.2" cy="760.8" r="5.7"/><circle cx="207.4" cy="758.1" r="5.7"/><circle cx="207.6" cy="756.4" r="5.7"/><circle cx="209.5" cy="754.8" r="5.7"/><circle cx="210.3" cy="753.4" r="5.7"/><circle cx="216.1" cy="751.3" r="5.7"/><circle cx="217.1" cy="748.5" r="5.7"/><circle cx="132.3" cy="813.6" r="5.7"/><circle cx="144.1" cy="807.4" r="5.7"/><circle cx="151.1" cy="811.0" r="5.7"/><circle cx="147.6" cy="809.2" r="5.7"/><circle cx="157.2" cy="802.2" r="5.7"/><circle cx="165.1" cy="789.1" r="5.7"/><circle cx="167.7" cy="790.8" r="5.7"/><circle cx="172.1" cy="785.6" r="5.7"/><circle cx="174.7" cy="778.5" r="5.7"/><circle cx="180.5" cy="767.2" r="5.7"/><circle cx="195.7" cy="772.4" r="5.7"/><circle cx="201.9" cy="768.9" r="5.7"/><circle cx="190.5" cy="762.8" r="5.7"/><circle cx="194.0" cy="759.3" r="5.7"/><circle cx="208.9" cy="755.8" r="5.7"/><circle cx="197.5" cy="743.5" r="5.7"/><circle cx="214.1" cy="748.8" r="5.7"/><circle cx="177.9" cy="782.5" r="5.7"/><circle cx="171.8" cy="791.2" r="5.7"/><circle cx="202.4" cy="768.5" r="5.7"/><circle cx="193.7" cy="760.6" r="5.7"/><circle cx="198.0" cy="742.2" r="5.7"/><circle cx="207.7" cy="756.2" r="5.7"/><circle cx="218.2" cy="736.9" r="5.7"/><circle cx="211.2" cy="736.1" r="5.7"/><circle cx="222.6" cy="748.3" r="5.7"/><circle cx="214.7" cy="751.8" r="5.7"/><circle cx="236.6" cy="738.7" r="5.7"/><circle cx="233.1" cy="736.1" r="5.7"/><circle cx="243.6" cy="730.8" r="5.7"/><circle cx="248.0" cy="729.9" r="5.7"/><circle cx="242.7" cy="723.8" r="5.7"/><circle cx="134.9" cy="824.1" r="5.7"/><circle cx="140.9" cy="815.7" r="5.7"/><circle cx="151.9" cy="800.4" r="5.7"/><circle cx="163.3" cy="796.9" r="5.7"/><circle cx="177.3" cy="782.9" r="5.7"/><circle cx="187.9" cy="778.5" r="5.7"/><circle cx="197.5" cy="764.5" r="5.7"/><circle cx="203.3" cy="754.0" r="5.7"/><circle cx="187.5" cy="779.0" r="5.7"/><circle cx="197.2" cy="765.0" r="5.7"/><circle cx="203.3" cy="753.6" r="5.7"/><circle cx="217.3" cy="749.2" r="5.7"/><circle cx="239.2" cy="725.6" r="5.7"/></g>
<line x1="103.4" y1="851.2" x2="283.0" y2="692.6" stroke="#5b9bd5" stroke-width="1.0"/>
<circle cx="198.1" cy="821.8" r="3.25" fill="#5b9bd5" stroke="#000" stroke-width="1.1"/>
<text x="203.7" y="825.1" text-anchor="start" font-size="10.7" textLength="63.4" lengthAdjust="spacingAndGlyphs">Training Set</text>
<text x="93.0" y="855.8" text-anchor="end" font-size="10.7" textLength="5.6" lengthAdjust="spacingAndGlyphs">0</text>
<text x="93.0" y="828.8" text-anchor="end" font-size="10.7" textLength="17.3" lengthAdjust="spacingAndGlyphs">500</text>
<text x="93.0" y="801.8" text-anchor="end" font-size="10.7" textLength="23.2" lengthAdjust="spacingAndGlyphs">1000</text>
<text x="93.0" y="774.7" text-anchor="end" font-size="10.7" textLength="23.2" lengthAdjust="spacingAndGlyphs">1500</text>
<text x="93.0" y="747.7" text-anchor="end" font-size="10.7" textLength="23.2" lengthAdjust="spacingAndGlyphs">2000</text>
<text x="93.0" y="720.7" text-anchor="end" font-size="10.7" textLength="23.2" lengthAdjust="spacingAndGlyphs">2500</text>
<text x="93.0" y="693.6" text-anchor="end" font-size="10.7" textLength="23.2" lengthAdjust="spacingAndGlyphs">3000</text>
<text x="103.1" y="869.5" text-anchor="middle" font-size="10.7" textLength="5.6" lengthAdjust="spacingAndGlyphs">0</text>
<text x="162.8" y="869.5" text-anchor="middle" font-size="10.7" textLength="23.2" lengthAdjust="spacingAndGlyphs">1000</text>
<text x="222.4" y="869.5" text-anchor="middle" font-size="10.7" textLength="23.2" lengthAdjust="spacingAndGlyphs">2000</text>
<text x="282.1" y="869.5" text-anchor="middle" font-size="10.7" textLength="23.2" lengthAdjust="spacingAndGlyphs">3000</text>
<text x="137.3" y="887.7" text-anchor="start" font-size="11.2" textLength="135.0" lengthAdjust="spacingAndGlyphs">Actual Surface Area (m<tspan font-size="7.6" dy="-4.2">2</tspan><tspan dy="4.2">/g)</tspan></text>
<text x="63.7" y="773.0" text-anchor="middle" font-size="10.2" textLength="150.5" lengthAdjust="spacing" transform="rotate(-90 63.7 769.6)" stroke="#111" stroke-width="0.4">Predicted Surface Area (m<tspan font-size="6.2" dy="-3.9">2</tspan><tspan dy="3.9">/g)</tspan></text>
<text x="178.0" y="680.5" text-anchor="middle" font-size="13.2" textLength="16.1" lengthAdjust="spacingAndGlyphs">(g)</text>
</g>
<g id="panel-h">
<line x1="454.4" x2="624.5" y1="808.3" y2="808.3" stroke="#d2d2d2" stroke-width="1.2"/>
<line x1="454.4" x2="624.5" y1="783.6" y2="783.6" stroke="#d2d2d2" stroke-width="1.2"/>
<line x1="454.4" x2="624.5" y1="758.9" y2="758.9" stroke="#d2d2d2" stroke-width="1.2"/>
<line x1="454.4" x2="624.5" y1="734.2" y2="734.2" stroke="#d2d2d2" stroke-width="1.2"/>
<line x1="454.4" x2="624.5" y1="709.5" y2="709.5" stroke="#d2d2d2" stroke-width="1.2"/>
<line x1="511.1" x2="511.1" y1="685.4" y2="833.4" stroke="#d2d2d2" stroke-width="1.2"/>
<line x1="567.8" x2="567.8" y1="685.4" y2="833.4" stroke="#d2d2d2" stroke-width="1.2"/>
<rect x="454.4" y="685.4" width="170.1" height="148.0" fill="none" stroke="#848484" stroke-width="4.3" stroke-linejoin="round"/>
<path d="M454.4 686.4V833.9H623.5" fill="none" stroke="#bfbfbf" stroke-width="1"/>
<g fill="#5b9bd5" stroke="#000" stroke-width="1.35"><circle cx="481.9" cy="798.2" r="5.7"/><circle cx="498.1" cy="795.9" r="5.7"/><circle cx="500.5" cy="785.8" r="5.7"/><circle cx="511.7" cy="782.7" r="5.7"/><circle cx="515.2" cy="782.3" r="5.7"/><circle cx="515.8" cy="773.8" r="5.7"/><circle cx="516.1" cy="777.3" r="5.7"/><circle cx="528.5" cy="766.7" r="5.7"/><circle cx="536.5" cy="752.6" r="5.7"/><circle cx="539.1" cy="748.7" r="5.7"/><circle cx="540.0" cy="757.9" r="5.7"/><circle cx="533.0" cy="754.4" r="5.7"/><circle cx="540.9" cy="748.2" r="5.7"/><circle cx="548.0" cy="757.0" r="5.7"/><circle cx="542.7" cy="759.7" r="5.7"/><circle cx="527.9" cy="755.9" r="5.7"/><circle cx="535.3" cy="767.8" r="5.7"/><circle cx="546.2" cy="749.9" r="5.7"/><circle cx="543.6" cy="732.8" r="5.7"/><circle cx="551.6" cy="722.5" r="5.7"/><circle cx="556.9" cy="726.4" r="5.7"/><circle cx="556.9" cy="739.3" r="5.7"/><circle cx="561.3" cy="735.8" r="5.7"/><circle cx="563.1" cy="727.8" r="5.7"/><circle cx="576.9" cy="726.9" r="5.7"/><circle cx="581.7" cy="727.8" r="5.7"/><circle cx="586.1" cy="721.6" r="5.7"/><circle cx="593.2" cy="721.6" r="5.7"/><circle cx="584.0" cy="717.2" r="5.7"/></g>
<line x1="444.4" y1="832.2" x2="626.5" y2="687.1" stroke="#5b9bd5" stroke-width="1.4"/>
<circle cx="520.5" cy="794.6" r="3.25" fill="#5b9bd5" stroke="#000" stroke-width="1.1"/>
<text x="526.5" y="797.9" text-anchor="start" font-size="10.7" textLength="55.4" lengthAdjust="spacingAndGlyphs">Testing Set</text>
<text x="443.1" y="836.5" text-anchor="end" font-size="10.7" textLength="5.6" lengthAdjust="spacingAndGlyphs">0</text>
<text x="443.1" y="811.8" text-anchor="end" font-size="10.7" textLength="17.3" lengthAdjust="spacingAndGlyphs">500</text>
<text x="443.1" y="787.1" text-anchor="end" font-size="10.7" textLength="23.2" lengthAdjust="spacingAndGlyphs">1000</text>
<text x="443.1" y="762.4" text-anchor="end" font-size="10.7" textLength="23.2" lengthAdjust="spacingAndGlyphs">1500</text>
<text x="443.1" y="737.7" text-anchor="end" font-size="10.7" textLength="23.2" lengthAdjust="spacingAndGlyphs">2000</text>
<text x="443.1" y="713.0" text-anchor="end" font-size="10.7" textLength="23.2" lengthAdjust="spacingAndGlyphs">2500</text>
<text x="443.1" y="688.3" text-anchor="end" font-size="10.7" textLength="23.2" lengthAdjust="spacingAndGlyphs">3000</text>
<text x="454.4" y="850.9" text-anchor="middle" font-size="10.7" textLength="5.6" lengthAdjust="spacingAndGlyphs">0</text>
<text x="511.1" y="850.9" text-anchor="middle" font-size="10.7" textLength="23.2" lengthAdjust="spacingAndGlyphs">1000</text>
<text x="567.8" y="850.9" text-anchor="middle" font-size="10.7" textLength="23.2" lengthAdjust="spacingAndGlyphs">2000</text>
<text x="624.5" y="850.9" text-anchor="middle" font-size="10.7" textLength="23.2" lengthAdjust="spacingAndGlyphs">3000</text>
<text x="485.5" y="865.3" text-anchor="start" font-size="11.2" textLength="135.0" lengthAdjust="spacingAndGlyphs">Actual Surface Area (m<tspan font-size="7.6" dy="-4.2">2</tspan><tspan dy="4.2">/g)</tspan></text>
<text x="404.8" y="767.0" text-anchor="middle" font-size="10.2" textLength="150.5" lengthAdjust="spacing" transform="rotate(-90 404.8 763.6)" stroke="#111" stroke-width="0.4">Predicted Surface Area (m<tspan font-size="6.2" dy="-3.9">2</tspan><tspan dy="3.9">/g)</tspan></text>
<text x="526.0" y="678.1" text-anchor="middle" font-size="13.2" textLength="16.1" lengthAdjust="spacingAndGlyphs">(h)</text>
</g>
<rect x="0.5" y="0.5" width="684" height="903" fill="none" stroke="#484848" stroke-width="1"/>
</svg>
</body></html>
